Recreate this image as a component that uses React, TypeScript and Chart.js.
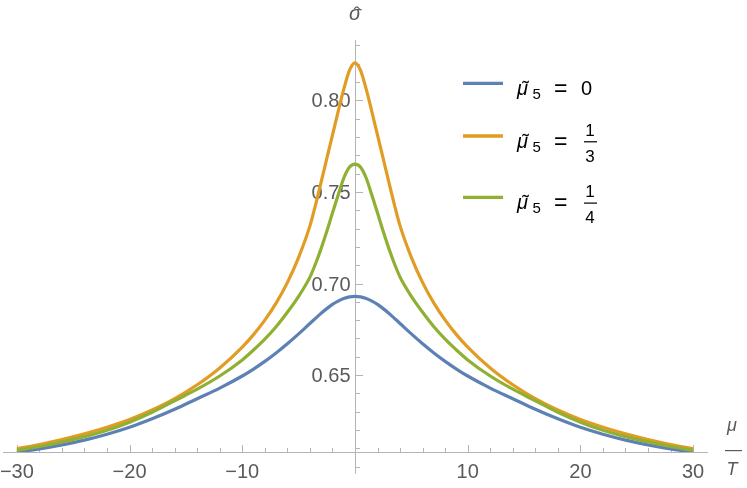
import React, { useEffect, useRef } from "react";
import { Chart, registerables } from "chart.js";

Chart.register(...registerables);

// ---- data ----
const xValues = [
  -30, -28, -26, -24, -22, -20, -18, -16, -14, -12, -10, -9, -8, -7, -6, -5, -4, -3.5, -3, -2.5, -2, -1.5, -1, -0.5,
  0, 0.5, 1, 1.5, 2, 2.5, 3, 3.5, 4, 5, 6, 7, 8, 9, 10, 12, 14, 16, 18, 20, 22, 24, 26, 28, 30,
];

const blueSeries = [
  0.6079, 0.6097, 0.6119, 0.6145, 0.6177, 0.6215, 0.6261, 0.6313, 0.6371, 0.6429, 0.6495, 0.6533, 0.6575, 0.6621,
  0.6671, 0.6725, 0.6782, 0.681, 0.6838, 0.6863, 0.6886, 0.6904, 0.6918, 0.6927,
  0.693, 0.6927, 0.6918, 0.6904, 0.6886, 0.6863, 0.6838, 0.681, 0.6782, 0.6725, 0.6671, 0.6621, 0.6575, 0.6533,
  0.6495, 0.6429, 0.6371, 0.6313, 0.6261, 0.6215, 0.6177, 0.6145, 0.6119, 0.6097, 0.6079,
];

const orangeSeries = [
  0.6098, 0.6121, 0.6148, 0.6179, 0.6215, 0.6257, 0.6309, 0.6371, 0.6447, 0.6539, 0.6653, 0.6721, 0.68, 0.6893,
  0.7005, 0.7143, 0.7315, 0.743, 0.7555, 0.7683, 0.781, 0.7938, 0.806, 0.8163,
  0.8205, 0.8163, 0.806, 0.7938, 0.781, 0.7683, 0.7555, 0.743, 0.7315, 0.7143, 0.7005, 0.6893, 0.68, 0.6721,
  0.6653, 0.6539, 0.6447, 0.6371, 0.6309, 0.6257, 0.6215, 0.6179, 0.6148, 0.6121, 0.6098,
];

const greenSeries = [
  0.6089, 0.611, 0.6135, 0.6164, 0.6199, 0.6243, 0.6297, 0.636, 0.6423, 0.6495, 0.6583, 0.6637, 0.6696, 0.6764,
  0.6843, 0.693, 0.7035, 0.7108, 0.7192, 0.7285, 0.7385, 0.7482, 0.7575, 0.7635,
  0.7652, 0.7635, 0.7575, 0.7482, 0.7385, 0.7285, 0.7192, 0.7108, 0.7035, 0.693, 0.6843, 0.6764, 0.6696, 0.6637,
  0.6583, 0.6495, 0.6423, 0.636, 0.6297, 0.6243, 0.6199, 0.6164, 0.6135, 0.611, 0.6089,
];

const seriesColors = ["#5E81B5", "#E19C24", "#8FB032"];
const legendValues: string[][] = [["0"], ["1", "3"], ["1", "4"]];

const xMajorTicks = [-30, -20, -10, 10, 20, 30];
const xTickLabels = ["\u221230", "\u221220", "\u221210", "10", "20", "30"];
const yMajorTicks = [0.65, 0.7, 0.75, 0.8];
const yTickLabels = ["0.65", "0.70", "0.75", "0.80"];

const X_MIN = -31.23;
const X_MAX = 31.32;
const Y_MIN = 0.608;
const Y_MAX = 0.833;
const Y_AXIS_LOW = 0.5962;

const AXIS_COLOR = "#b4b4b4";
const LABEL_COLOR = "#5a5a5a";
const FONT = "'Liberation Sans', Arial, sans-serif";

const axesPlugin = {
  id: "mmAxes",
  beforeDatasetsDraw(chart: any) {
    const ctx: CanvasRenderingContext2D = chart.ctx;
    const xs = chart.scales.x;
    const ys = chart.scales.y;
    const ca = chart.chartArea;
    ctx.save();
    ctx.strokeStyle = AXIS_COLOR;
    ctx.lineWidth = 1;
    const x0 = Math.round(xs.getPixelForValue(0)) + 0.5;
    const yAx = Math.round(ys.getPixelForValue(Y_MIN)) + 0.5;

    ctx.beginPath();
    ctx.moveTo(ca.left, yAx);
    ctx.lineTo(ca.right, yAx);
    ctx.moveTo(x0, ca.top);
    ctx.lineTo(x0, ys.getPixelForValue(Y_AXIS_LOW));
    ctx.stroke();

    ctx.beginPath();
    for (let v = -30; v <= 30; v += 2) {
      if (v === 0) continue;
      const major = v % 10 === 0;
      const px = Math.round(xs.getPixelForValue(v)) + 0.5;
      ctx.moveTo(px, yAx);
      ctx.lineTo(px, yAx - (major ? 7.5 : 4.5));
    }
    for (let i = 60; i <= 83; i++) {
      const v = i / 100;
      const major = i % 5 === 0 && i !== 60;
      const py = Math.round(ys.getPixelForValue(v)) + 0.5;
      ctx.moveTo(x0, py);
      ctx.lineTo(x0 + (major ? 7.5 : 4.5), py);
    }
    ctx.stroke();

    ctx.fillStyle = LABEL_COLOR;
    ctx.font = `20px ${FONT}`;
    ctx.textBaseline = "alphabetic";
    ctx.textAlign = "center";
    xMajorTicks.forEach((v, i) => {
      ctx.fillText(xTickLabels[i], xs.getPixelForValue(v), 478);
    });
    ctx.textAlign = "right";
    yMajorTicks.forEach((v, i) => {
      ctx.fillText(yTickLabels[i], x0 - 5, ys.getPixelForValue(v) + 7);
    });

    ctx.textAlign = "center";
    ctx.font = `italic 20px ${FONT}`;
    ctx.fillText("\u03C3", 355, 20);
    ctx.font = `19px ${FONT}`;
    ctx.fillText("\u02C6", 357, 20);

    ctx.font = `italic 18px ${FONT}`;
    ctx.fillText("\u03BC", 732, 431);
    ctx.fillText("T", 732, 475);
    ctx.fillRect(725, 450, 17, 1.2);
    ctx.restore();
  },
  afterDraw(chart: any) {
    const ctx: CanvasRenderingContext2D = chart.ctx;
    const rows = [83.3, 136, 197.3];
    ctx.save();
    rows.forEach((L, i) => {
      ctx.strokeStyle = seriesColors[i];
      ctx.lineWidth = 3.3;
      ctx.beginPath();
      ctx.moveTo(463, L);
      ctx.lineTo(503, L);
      ctx.stroke();

      ctx.fillStyle = "#000";
      ctx.textBaseline = "alphabetic";
      ctx.textAlign = "left";
      ctx.font = `italic 20px ${FONT}`;
      ctx.fillText("\u03BC", 517, L + 11.5);
      ctx.textAlign = "center";
      ctx.font = `20px ${FONT}`;
      ctx.fillText("\u02DC", 525.5, L + 11.5);
      ctx.textAlign = "left";
      ctx.font = `15px ${FONT}`;
      ctx.fillText("5", 532.5, L + 15.5);
      ctx.font = `23px ${FONT}`;
      ctx.fillText("=", 554, L + 12.5);
      const val = legendValues[i];
      if (val.length === 1) {
        ctx.font = `20px ${FONT}`;
        ctx.fillText(val[0], 581, L + 11.5);
      } else {
        ctx.textAlign = "center";
        ctx.font = `17px ${FONT}`;
        ctx.fillText(val[0], 590, L - 0.5);
        ctx.fillRect(584, L + 5.2, 13, 1.2);
        ctx.fillText(val[1], 590, L + 25.5);
      }
    });
    ctx.restore();
  },
};

export default function App() {
  const canvasRef = useRef<HTMLCanvasElement | null>(null);

  useEffect(() => {
    if (!canvasRef.current) return;
    const mk = (ys: number[]) => xValues.map((x, i) => ({ x, y: ys[i] }));
    const chart = new Chart(canvasRef.current, {
      type: "line",
      data: {
        datasets: [
          { label: "mu5 = 0", data: mk(blueSeries), borderColor: seriesColors[0], order: 3 },
          { label: "mu5 = 1/3", data: mk(orangeSeries), borderColor: seriesColors[1], order: 2 },
          { label: "mu5 = 1/4", data: mk(greenSeries), borderColor: seriesColors[2], order: 1 },
        ].map((d) => ({
          ...d,
          borderWidth: 3.2,
          pointRadius: 0,
          fill: false,
          cubicInterpolationMode: "monotone" as const,
        })),
      },
      options: {
        animation: false,
        responsive: true,
        maintainAspectRatio: false,
        events: [],
        layout: { padding: { left: 3, top: 40, right: 39, bottom: 36 } },
        scales: {
          x: { type: "linear", min: X_MIN, max: X_MAX, display: false },
          y: { type: "linear", min: Y_MIN, max: Y_MAX, display: false },
        },
        plugins: { legend: { display: false }, tooltip: { enabled: false } },
      },
      plugins: [axesPlugin],
    });
    return () => chart.destroy();
  }, []);

  return (
    <div style={{ position: "fixed", left: 0, top: 0, width: 747, height: 488, background: "#fff" }}>
      <canvas ref={canvasRef} />
    </div>
  );
}
